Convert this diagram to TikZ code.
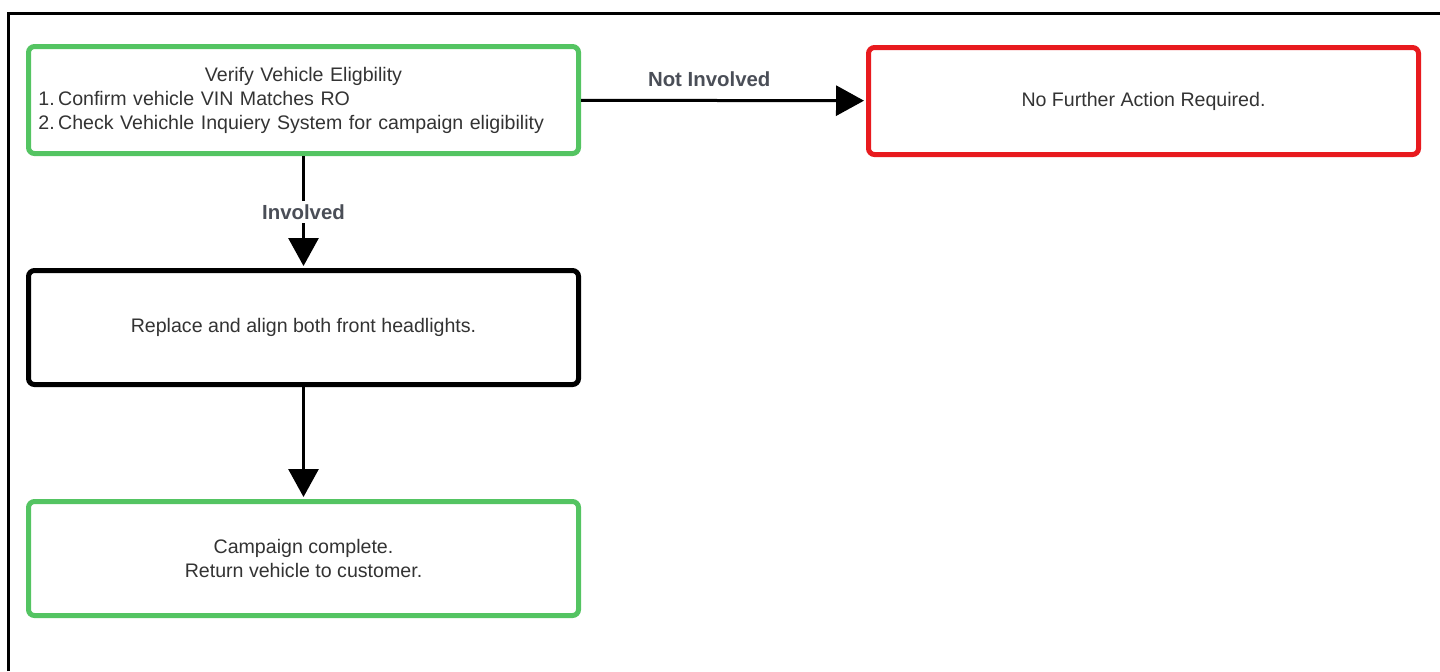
\documentclass[tikz,border=0pt]{standalone}
\usepackage{fontspec}
\setmainfont{Liberation Sans}
\usetikzlibrary{arrows.meta,positioning}

\definecolor{okgreen}{RGB}{84,196,98}
\definecolor{stopred}{RGB}{232,26,30}
\definecolor{labelgray}{RGB}{74,78,87}
\definecolor{boxtext}{RGB}{51,51,51}

\tikzset{
  stepbox/.style={draw, line width=2.5pt, rounded corners=3pt, minimum width=275pt,
    minimum height=57pt, inner sep=0pt, font=\fontsize{9.8}{12}\selectfont, text=boxtext, align=center},
  flow/.style={line width=1.5pt, -{Triangle[width=15pt,length=14pt]}, shorten >=1pt},
  flowlabel/.style={font=\bfseries\fontsize{10.2}{12}\selectfont, text=labelgray}
}

\begin{document}
\begin{tikzpicture}[x=0.5pt,y=-0.5pt]
    \useasboundingbox (0,0) rectangle (1440,671);
    % frame
    \draw[line width=1.5pt] (8,671) -- (8,13) -- (1440,13);
    % boxes
    \node[stepbox, draw=okgreen, minimum height=53.5pt, text width=265pt, align=left] (verify) at (303.5,100)
      {\makebox[\linewidth]{Verify Vehicle Eligbility}\\
       1.\,Confirm vehicle VIN Matches RO\\
       2.\,Check Vehichle Inquiery System for campaign eligibility};
    \node[stepbox, draw=stopred, minimum height=53.5pt] (noaction) at (1143.5,101) {No Further Action Required.};
    \node[stepbox, draw=black] (replace) at (303.5,327.5) {Replace and align both front headlights.};
    \node[stepbox, draw=okgreen] (done) at (303.5,558.5) {Campaign complete.\\Return vehicle to customer.};
    % connectors
    \draw[flow] (verify.south) -- node[flowlabel, fill=white, inner sep=2pt] {Involved} (replace);
    \draw[flow] (verify) -- node[flowlabel, above, pos=0.45, yshift=3pt] {Not Involved} (noaction);
    \draw[flow] (replace) -- (done);
\end{tikzpicture}
\end{document}
